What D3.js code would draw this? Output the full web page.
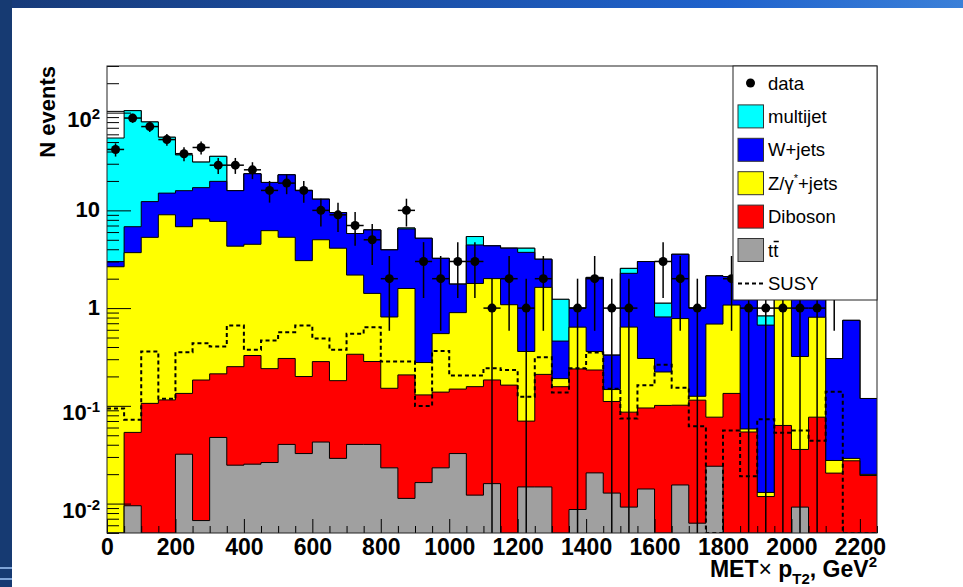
<!DOCTYPE html>
<html>
<head>
<meta charset="utf-8">
<script src="https://cdnjs.cloudflare.com/ajax/libs/d3/7.8.5/d3.min.js"></script>
<style>
  html, body { margin: 0; padding: 0; background: #fff; }
  svg { display: block; }
</style>
</head>
<body>
<div id="chart"></div>
<script>
// MET x pT2 distribution, 45 bins of 50 GeV^2 from 0 to 2250

const binWidth = 50;
const binLows = d3.range(0, 2250, binWidth);

// stacked backgrounds (bottom to top)
const ttbar = [0, 0.0095, 0, 0, 0.032, 0.0067, 0.0475, 0.0247, 0.0253, 0.0263, 0.0403, 0.0325, 0.0426, 0.029, 0.0403,
  0.0403, 0.0232, 0.0113, 0.0164, 0.0232, 0.0325, 0.0122, 0.016, 0, 0.0148, 0.0148, 0, 0.0087, 0.0206, 0.0128,
  0.0092, 0.0141, 0, 0.0155, 0.0063, 0.0241, 0, 0, 0, 0, 0.0092, 0, 0, 0, 0];
const diboson = [0, 0.044, 0.106, 0.115, 0.102, 0.177, 0.165, 0.227, 0.302, 0.214, 0.265, 0.167, 0.241, 0.152, 0.297,
  0.244, 0.128, 0.196, 0.113, 0.115, 0.116, 0.145, 0.168, 0.163, 0.055, 0.195, 0.157, 0.23, 0.212, 0.098,
  0.077, 0.081, 0.101, 0.086, 0.108, 0.0525, 0.134, 0.054, 0.0118, 0.063, 0.0266, 0.0766, 0.0205, 0.0274, 0.0194];
const zjets = [2.65, 3.64, 5.19, 8.9, 6.67, 8.0, 7.5, 4.05, 4.17, 5.96, 5.0, 2.86, 4.72, 3.92, 1.84,
  1.13, 0.66, 1.38, 0.148, 0.41, 0.75, 1.63, 1.82, 0.92, 0.29, 1.42, 0.033, 0.40, 0.127, 0.036,
  0.553, 0.21, 0.121, 0.68, 0.011, 0.61, 0.94, 0.004, 0.0012, 1.24, 0.284, 0.73, 0.0071, 0.0016, 0.0005];
const wjets = [0.34, 3.11, 7.0, 6.0, 9.1, 8.9, 12.1, 11.6, 19.2, 13.1, 17.8, 12.9, 8.0, 5.4, 3.62,
  4.89, 3.13, 4.87, 4.9, 2.68, 0.86, 2.64, 2.33, 3.02, 3.36, 1.53, 0.27, 0.36, 1.70, 0.183,
  1.63, 2.69, 0.59, 2.77, 0.875, 1.45, 1.03, 1.94, 0.657, 0.06, 1.18, 0.69, 0.277, 0.72, 0.099];
const multijet = [52, 98, 68, 41, 21, 14.1, 15.9, 0, 0, 0, 0, 0, 0, 0, 0,
  0, 0, 0.14, 0, 0, 0, 0.97, 0, 0, 0.38, 0, 0.77, 0, 0, 0,
  0.28, 0, 0.31, 0, 0, 0, 0, 0, 0.16, 0, 0, 0, 0, 0, 0];
// unlabelled white-filled part on top of the stack (first bin only)
const otherBkg = [48, 0, 0, 0, 0, 0, 0, 0, 0, 0, 0, 0, 0, 0, 0,
  0, 0, 0, 0, 0, 0, 0, 0, 0, 0, 0, 0, 0, 0, 0,
  0, 0, 0, 0, 0, 0, 0, 0, 0, 0, 0, 0, 0, 0, 0];

// signal (dashed outline, not stacked)
const susy = [0.094, 0.072, 0.36, 0.118, 0.354, 0.437, 0.405, 0.664, 0.374, 0.466, 0.567, 0.664, 0.49, 0.374, 0.545,
  0.638, 0.284, 0.284, 0.0997, 0.365, 0.204, 0.204, 0.242, 0.233, 0.124, 0.314, 0.137, 0.242, 0.351, 0.15,
  0.074, 0.162, 0.264, 0.153, 0.062, 0, 0.056, 0.019, 0.073, 0.053, 0.056, 0.044, 0.139, 0, 0];

// observed events
const dataCounts = [42, 88, 72, 53, 38, 44, 29, 29, 26, 16, 19, 16, 10, 9, 7,
  5, 2, 10, 3, 2, 3, 3, 1, 2, 1, 2, 0, 1, 2, 1,
  1, 0, 3, 2, 1, 0, 2, 1, 1, 1, 1, 1, 2, 0, 0];

const xMajorTicks = d3.range(0, 2201, 200);
const xMinorTicks = d3.range(0, 2251, 50).filter(v => v % 200 !== 0);
const yMajorTicks = [0.01, 0.1, 1, 10, 100];
const yTickLabels = [["10", "-2"], ["10", "-1"], ["1", ""], ["10", ""], ["10", "2"]];

const legendItems = [
  { key: "data", label: "data" },
  { key: "multijet", label: "multijet", color: "#00ffff" },
  { key: "wjets", label: "W+jets", color: "#0000ff" },
  { key: "zjets", label: "Z/γ*+jets", color: "#ffff00" },
  { key: "diboson", label: "Diboson", color: "#ff0000" },
  { key: "ttbar", label: "tt", color: "#a0a0a0" },
  { key: "susy", label: "SUSY" }
];

const W = 963, H = 587;
const frame = { left: 107, top: 66, right: 877, bottom: 533 };
const yMin = 0.005, yMax = 300;

const svg = d3.select("#chart").append("svg")
  .attr("width", W)
  .attr("height", H)
  .style("font-family", "'Liberation Sans', Arial, Helvetica, sans-serif");

// slide background decoration
const defs = svg.append("defs");
const band = defs.append("linearGradient").attr("id", "band").attr("x1", "0%").attr("x2", "100%");
band.append("stop").attr("offset", "0%").attr("stop-color", "#173a78");
band.append("stop").attr("offset", "75%").attr("stop-color", "#1f62cc");
band.append("stop").attr("offset", "100%").attr("stop-color", "#3b80d8");
svg.append("rect").attr("x", 0).attr("y", 0).attr("width", W).attr("height", 8).attr("fill", "url(#band)");
svg.append("rect").attr("x", 0).attr("y", 0).attr("width", 12).attr("height", H).attr("fill", "#163a72");
[567, 578].forEach(yy => {
  svg.append("rect").attr("x", 0).attr("y", yy).attr("width", 12).attr("height", 2).attr("fill", "#7ea3d6");
});

defs.append("clipPath").attr("id", "plotclip")
  .append("rect")
  .attr("x", frame.left).attr("y", frame.top)
  .attr("width", frame.right - frame.left).attr("height", frame.bottom - frame.top);

const x = d3.scaleLinear().domain([0, 2250]).range([frame.left, frame.right]);
const y = d3.scaleLog().domain([yMin, yMax]).range([frame.bottom, frame.top]);
const yPos = v => v > yMin ? y(Math.min(v, yMax)) : y(yMin);

// step points for a per-bin array of values
function stepPoints(vals) {
  return vals.flatMap((v, i) => [
    { x: x(binLows[i]), y: yPos(v) },
    { x: x(binLows[i] + binWidth), y: yPos(v) }
  ]);
}

const rows = binLows.map((lo, i) => ({
  ttbar: ttbar[i], diboson: diboson[i], zjets: zjets[i],
  wjets: wjets[i], multijet: multijet[i], other: otherBkg[i]
}));
const keys = ["ttbar", "diboson", "zjets", "wjets", "multijet", "other"];
const colors = { ttbar: "#a0a0a0", diboson: "#ff0000", zjets: "#ffff00", wjets: "#0000ff", multijet: "#00ffff", other: "#ffffff" };
const stacked = d3.stack().keys(keys)(rows);

const plot = svg.append("g").attr("clip-path", "url(#plotclip)");

const area = d3.area().x(p => p.x).y0(y(yMin)).y1(p => p.y);
const line = d3.line().x(p => p.x).y(p => p.y);

// ROOT style: draw cumulative histograms from the top one down
stacked.slice().reverse().forEach(s => {
  const pts = stepPoints(s.map(d => d[1]));
  plot.append("path").attr("d", area(pts)).attr("fill", colors[s.key]);
  plot.append("path").attr("d", line(pts))
    .attr("fill", "none").attr("stroke", "#000").attr("stroke-width", 1);
});

// SUSY dashed outline
plot.append("path")
  .attr("d", line(stepPoints(susy)))
  .attr("fill", "none")
  .attr("stroke", "#000")
  .attr("stroke-width", 2)
  .attr("stroke-dasharray", "4,3");

// data points with sqrt(N) errors
const pts = binLows.map((lo, i) => ({ lo, n: dataCounts[i] })).filter(d => d.n > 0);
const dataG = plot.append("g");
pts.forEach(d => {
  const cx = x(d.lo + binWidth / 2);
  const err = Math.sqrt(d.n);
  dataG.append("line")
    .attr("x1", cx).attr("x2", cx)
    .attr("y1", yPos(d.n - err)).attr("y2", yPos(d.n + err))
    .attr("stroke", "#000").attr("stroke-width", 1.5);
  dataG.append("line")
    .attr("x1", x(d.lo)).attr("x2", x(d.lo + binWidth))
    .attr("y1", y(d.n)).attr("y2", y(d.n))
    .attr("stroke", "#000").attr("stroke-width", 1.5);
  dataG.append("circle")
    .attr("cx", cx).attr("cy", y(d.n)).attr("r", 4.5)
    .attr("fill", "#000");
});

// Axes: ticks pointing inside the frame
const yMinor = [];
[0.001, 0.01, 0.1, 1, 10, 100].forEach(dec => {
  d3.range(2, 10).forEach(k => {
    const v = k * dec;
    if (v >= yMin && v <= yMax) yMinor.push(v);
  });
});

svg.append("g")
  .attr("transform", `translate(${frame.left},0)`)
  .call(d3.axisLeft(y).tickValues(yMinor).tickSizeInner(-12).tickSizeOuter(0).tickFormat(""))
  .call(g => g.select(".domain").remove());
svg.append("g")
  .attr("transform", `translate(${frame.left},0)`)
  .call(d3.axisLeft(y).tickValues(yMajorTicks).tickSizeInner(-24).tickSizeOuter(0).tickFormat(""))
  .call(g => g.select(".domain").remove());

svg.append("g")
  .attr("transform", `translate(0,${frame.bottom})`)
  .call(d3.axisBottom(x).tickValues(xMinorTicks).tickSizeInner(-7).tickSizeOuter(0).tickFormat(""))
  .call(g => g.select(".domain").remove());
const xAxis = svg.append("g")
  .attr("transform", `translate(0,${frame.bottom})`)
  .call(d3.axisBottom(x).tickValues(xMajorTicks).tickSizeInner(-14).tickSizeOuter(0).tickPadding(6).tickFormat(d3.format("d")))
  .call(g => g.select(".domain").remove());
xAxis.selectAll("text")
  .attr("font-size", 23)
  .attr("font-weight", "bold")
  .attr("font-family", "'Liberation Sans', Arial, sans-serif")
  .attr("fill", "#000");

// y tick labels with exponents
yMajorTicks.forEach((v, i) => {
  const [base, exp] = yTickLabels[i];
  const t = svg.append("text")
    .attr("x", 100)
    .attr("y", y(v) + (exp ? 14 : 7))
    .attr("text-anchor", "end")
    .attr("font-size", 22)
    .attr("font-weight", "bold")
    .attr("fill", "#000");
  t.append("tspan").text(base);
  if (exp) t.append("tspan").attr("font-size", 15).attr("dy", -8).text(exp);
});

// frame
svg.append("rect")
  .attr("x", frame.left).attr("y", frame.top)
  .attr("width", frame.right - frame.left).attr("height", frame.bottom - frame.top)
  .attr("fill", "none").attr("stroke", "#222").attr("stroke-width", 1);

// axis titles
const xt = svg.append("text")
  .attr("x", frame.right).attr("y", 577)
  .attr("text-anchor", "end")
  .attr("font-size", 23)
  .attr("font-weight", "bold")
  .attr("fill", "#000");
xt.append("tspan").text("MET");
xt.append("tspan").attr("font-weight", "normal").text("× ");
xt.append("tspan").text("p");
xt.append("tspan").attr("font-size", 15).attr("dy", 7).text("T2");
xt.append("tspan").attr("dy", -7).text(", GeV");
xt.append("tspan").attr("font-size", 15).attr("dy", -10).text("2");

svg.append("text")
  .attr("transform", `translate(55,${frame.top}) rotate(-90)`)
  .attr("text-anchor", "end")
  .attr("font-size", 22)
  .attr("font-weight", "bold")
  .attr("fill", "#000")
  .text("N events");

// legend
const lg = { x: 733, y: frame.top, w: frame.right - 733, h: 234, row0: 83, rowStep: 33.4 };
svg.append("rect")
  .attr("x", lg.x).attr("y", lg.y).attr("width", lg.w).attr("height", lg.h)
  .attr("fill", "#fff").attr("stroke", "#222").attr("stroke-width", 1);

legendItems.forEach((it, i) => {
  const cy = lg.row0 + i * lg.rowStep;
  if (it.key === "data") {
    svg.append("circle").attr("cx", 750.5).attr("cy", cy).attr("r", 4.5).attr("fill", "#000");
  } else if (it.key === "susy") {
    svg.append("line").attr("x1", 738).attr("x2", 763).attr("y1", cy).attr("y2", cy)
      .attr("stroke", "#000").attr("stroke-width", 2).attr("stroke-dasharray", "4,3");
  } else {
    svg.append("rect").attr("x", 738).attr("y", cy - 11.5).attr("width", 25.5).attr("height", 23)
      .attr("fill", it.color).attr("stroke", "#333").attr("stroke-width", 1);
  }
  const t = svg.append("text")
    .attr("x", 768).attr("y", cy + 6.5)
    .attr("font-size", 18.5)
    .attr("fill", "#000");
  if (it.key === "zjets") {
    t.append("tspan").text("Z/γ");
    t.append("tspan").attr("font-size", 11).attr("dy", -8).text("*");
    t.append("tspan").attr("dy", 8).text("+jets");
  } else if (it.key === "ttbar") {
    const t1 = t.append("tspan").text("t");
    t.append("tspan").text("t");
    const w1 = t1.node().getComputedTextLength();
    svg.append("line")
      .attr("x1", 768 + w1 + 0.5).attr("x2", 768 + 2 * w1 + 0.5)
      .attr("y1", cy - 8.5).attr("y2", cy - 8.5)
      .attr("stroke", "#000").attr("stroke-width", 1.5);
  } else {
    t.text(it.label);
  }
});
</script>
</body>
</html>
